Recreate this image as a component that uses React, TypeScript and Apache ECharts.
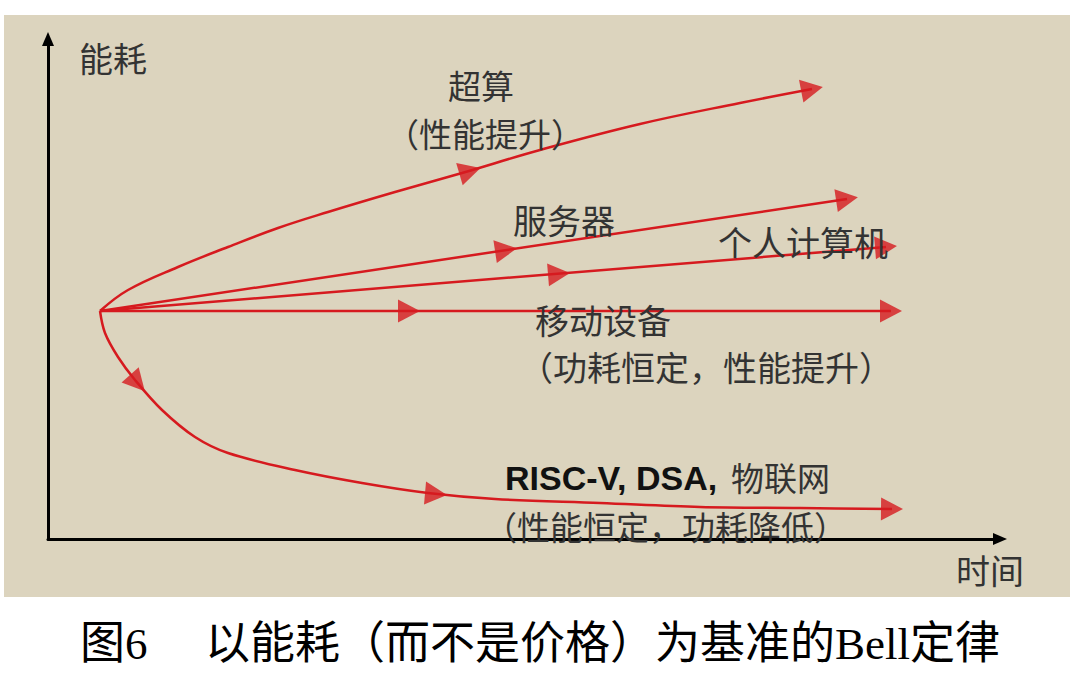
import React, { useEffect, useRef } from "react";
import * as echarts from "echarts";

const RED = "#d61a1f";
const BG = "#dcd4be";

// curves: time (x) vs energy (y), arbitrary units
const superX = [5.2, 8.0, 13.0, 18.0, 23.0, 28.0, 34.7, 41.4, 49.2, 59.2, 69.2, 76.4];
const superY = [22.8, 24.9, 27.2, 29.2, 31.1, 32.7, 34.7, 36.6, 38.9, 41.5, 43.6, 45.0];
const serverX = [5.2, 79.9];
const serverY = [22.8, 34.0];
const pcX = [5.2, 83.8];
const pcY = [22.8, 29.2];
const mobileX = [5.2, 84.3];
const mobileY = [22.8, 22.8];
const riscX = [5.2, 5.7, 7.0, 8.7, 11.4, 14.7, 18.0, 24.7, 31.4, 38.0, 44.7, 55.2, 65.2, 75.2, 84.4];
const riscY = [22.8, 20.6, 18.2, 15.9, 12.9, 10.2, 8.6, 6.9, 5.6, 4.6, 4.0, 3.6, 3.2, 3.1, 3.0];

const curvesX = [superX, serverX, pcX, mobileX, riscX];
const curvesY = [superY, serverY, pcY, mobileY, riscY];
const curveSmooth = [0.4, 0, 0, 0, 0.35];

// arrowheads: which curve, position
const arrowCurve = [0, 0, 1, 1, 2, 2, 3, 3, 4, 4, 4];
const arrowX = [42.2, 76.4, 45.8, 79.9, 51.1, 83.8, 36.1, 84.3, 8.95, 38.8, 84.4];
const arrowY = [36.8, 45.0, 28.9, 34.0, 26.5, 29.2, 22.8, 22.8, 15.6, 4.5, 3.0];

const axisNames = ["时间", "能耗"];
const captionFig = "图6";
const captionText = "以能耗（而不是价格）为基准的Bell定律";

const CJK = '"Noto Sans CJK SC", "Noto Sans", sans-serif';
const SERIF = '"Liberation Serif", "DejaVu Serif", "Noto Sans CJK SC", serif';

function txt(text: string, x: number, y: number, opts: any = {}) {
  const align = opts.align || "left";
  return {
    type: "text",
    x,
    y,
    z: 20,
    silent: true,
    style: {
      text,
      fill: opts.fill || "#333333",
      font: opts.font || `34px ${CJK}`,
      lineHeight: opts.lineHeight || 34,
      align,
      textAlign: align,
      verticalAlign: "middle",
      textVerticalAlign: "middle",
    },
  };
}

export default function App() {
  const ref = useRef<HTMLDivElement>(null);
  useEffect(() => {
    if (!ref.current) return;
    const chart = echarts.init(ref.current, undefined, { renderer: "svg" });
    const lineSeries = curvesX.map((xs, ci) => ({
      type: "line",
      data: xs.map((x, i) => [x, curvesY[ci][i]]),
      smooth: curveSmooth[ci],
      symbol: "none",
      showSymbol: false,
      silent: true,
      z: 3,
      lineStyle: { color: RED, width: 2.5 },
    }));
    const axisCommon = {
      type: "value",
      axisTick: { show: false },
      axisLabel: { show: false },
      splitLine: { show: false },
      axisLine: {
        show: true,
        onZero: false,
        symbol: ["none", "triangle"],
        symbolSize: [12, 14],
        lineStyle: { color: "#000000", width: 3 },
      },
    };
    const f33 = `33px ${CJK}`;
    chart.setOption({
      animation: false,
      backgroundColor: "#ffffff",
      grid: { left: 48, top: 39, width: 952, height: 500 },
      xAxis: { ...axisCommon, min: 0, max: 95.2 },
      yAxis: { ...axisCommon, min: 0, max: 50 },
      graphic: {
        elements: [
          {
            type: "rect",
            z: -100,
            silent: true,
            shape: { x: 4, y: 15, width: 1066, height: 582 },
            style: { fill: BG },
          },
          txt(axisNames[1], 79, 57),
          txt(axisNames[0], 956, 569),
          txt("超算", 481, 85, { align: "center", font: f33 }),
          txt("（性能提升）", 485, 133, { align: "center", font: f33 }),
          txt("服务器", 513, 219),
          txt("个人计算机", 718, 241),
          txt("移动设备", 535, 319),
          txt("（功耗恒定，性能提升）", 519, 366),
          txt("RISC-V, DSA,", 505, 478, {
            font: 'bold 34px "Liberation Sans", Arial, sans-serif',
            fill: "#111111",
          }),
          txt("物联网", 731, 477, { font: f33 }),
          txt("（性能恒定，功耗降低）", 484, 526, { font: f33 }),
          txt(captionFig, 80, 644, { font: `45px ${SERIF}`, fill: "#000000", lineHeight: 45 }),
          txt(captionText, 205, 644, { font: `45px ${SERIF}`, fill: "#000000", lineHeight: 45 }),
        ],
      },
      series: [
        ...lineSeries,
        {
          id: "arrows",
          type: "scatter",
          symbol: "triangle",
          symbolSize: [23, 22],
          silent: true,
          z: 5,
          itemStyle: { color: RED },
          data: [],
        },
      ],
    });

    const toPx = (p: number[]) => chart.convertToPixel({ gridIndex: 0 }, p) as number[];
    const arrowData = arrowX.map((x, k) => {
      const ci = arrowCurve[k];
      const xs = curvesX[ci];
      const ys = curvesY[ci];
      let i = 0;
      while (i < xs.length - 2 && xs[i + 1] < x) i++;
      const a = toPx([xs[i], ys[i]]);
      const b = toPx([xs[i + 1], ys[i + 1]]);
      const ang = (Math.atan2(-(b[1] - a[1]), b[0] - a[0]) * 180) / Math.PI;
      return { value: [x, arrowY[k]], symbolRotate: ang - 90 };
    });
    chart.setOption({ series: [{ id: "arrows", data: arrowData }] });

    return () => chart.dispose();
  }, []);
  return (
    <div
      ref={ref}
      style={{ position: "fixed", left: 0, top: 0, width: 1080, height: 683 }}
    />
  );
}
